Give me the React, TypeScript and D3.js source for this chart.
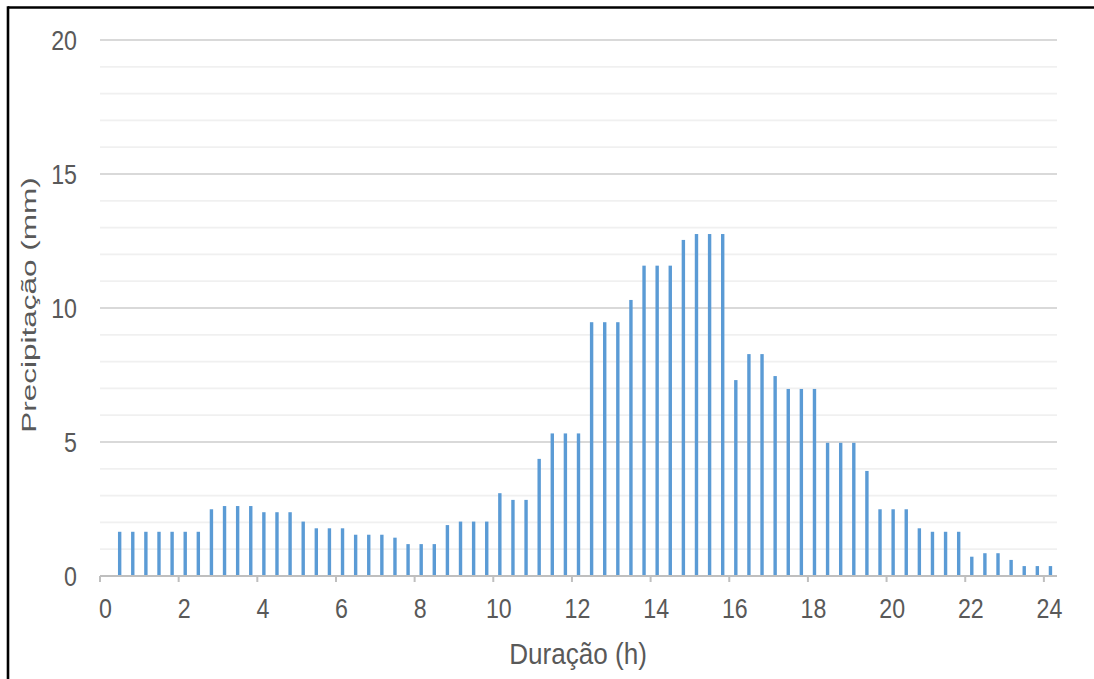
import React from "react";
import * as d3 from "d3";

// Duration categories (hours), one every 20 minutes
const durations: number[] = [
  0, 1 / 3, 2 / 3, 1, 4 / 3, 5 / 3, 2, 7 / 3, 8 / 3, 3, 10 / 3, 11 / 3, 4,
  13 / 3, 14 / 3, 5, 16 / 3, 17 / 3, 6, 19 / 3, 20 / 3, 7, 22 / 3, 23 / 3, 8,
  25 / 3, 26 / 3, 9, 28 / 3, 29 / 3, 10, 31 / 3, 32 / 3, 11, 34 / 3, 35 / 3, 12,
  37 / 3, 38 / 3, 13, 40 / 3, 41 / 3, 14, 43 / 3, 44 / 3, 15, 46 / 3, 47 / 3, 16,
  49 / 3, 50 / 3, 17, 52 / 3, 53 / 3, 18, 55 / 3, 56 / 3, 19, 58 / 3, 59 / 3, 20,
  61 / 3, 62 / 3, 21, 64 / 3, 65 / 3, 22, 67 / 3, 68 / 3, 23, 70 / 3, 71 / 3, 24,
];

// Precipitation (mm) per interval
const precipitation: number[] = [
  0,
  1.65, 1.65, 1.65, 1.65, 1.65, 1.65, 1.65,
  2.49, 2.61, 2.61, 2.61,
  2.38, 2.38, 2.38,
  2.03, 1.78, 1.78, 1.78,
  1.54, 1.54, 1.54, 1.43,
  1.19, 1.19, 1.19,
  1.9, 2.03, 2.03, 2.03,
  3.09, 2.84, 2.84, 4.37,
  5.32, 5.32, 5.32,
  9.47, 9.47, 9.47, 10.3,
  11.58, 11.58, 11.58,
  12.54, 12.76, 12.76, 12.76,
  7.31, 8.28, 8.28, 7.46,
  6.98, 6.98, 6.98,
  4.97, 4.97, 4.97, 3.92,
  2.49, 2.49, 2.49, 1.78,
  1.65, 1.65, 1.65,
  0.72, 0.85, 0.85, 0.6,
  0.37, 0.37, 0.37,
];

const xTickLabels: string[] = ["0", "2", "4", "6", "8", "10", "12", "14", "16", "18", "20", "22", "24"];
const yMajorTicks: number[] = [0, 5, 10, 15, 20];
const yMinorTicks: number[] = [1, 2, 3, 4, 6, 7, 8, 9, 11, 12, 13, 14, 16, 17, 18, 19];

const W = 1094;
const H = 679;
const plotLeft = 100;
const plotRight = 1057;
const plotTop = 40;
const plotBottom = 576;

const BAR = "#5B9BD5";
const TEXT = "#595959";
const FONT = "'Liberation Sans', Arial, sans-serif";
const SX = 0.86; // horizontal squeeze of the text, as in the picture

export default function App() {
  const idx = durations.map((_, i) => i);
  const x = d3.scaleBand<number>().domain(idx).range([plotLeft, plotRight]).padding(0);
  const y = d3.scaleLinear().domain([0, 20]).range([plotBottom, plotTop]);
  const bw = x.bandwidth();
  const barW = 3.4;

  const labelIdx = xTickLabels.map((l) => durations.findIndex((d) => Math.abs(d - +l) < 1e-9));

  return (
    <svg
      width={W}
      height={H}
      style={{ position: "absolute", left: 0, top: 0, background: "#fff" }}
      fontFamily={FONT}
    >
      <rect x={0} y={0} width={W} height={H} fill="#fff" />
      {/* minor gridlines */}
      {yMinorTicks.map((t) => (
        <line key={"mi" + t} x1={plotLeft} x2={plotRight} y1={y(t)} y2={y(t)} stroke="#f0f0f0" strokeWidth={1.8} />
      ))}
      {/* major gridlines */}
      {yMajorTicks.filter((t) => t > 0).map((t) => (
        <line key={"ma" + t} x1={plotLeft} x2={plotRight} y1={y(t)} y2={y(t)} stroke="#d9d9d9" strokeWidth={2} />
      ))}
      {/* bars */}
      {precipitation.map((v, i) =>
        v > 0 ? (
          <rect
            key={"b" + i}
            x={(x(i) as number) + bw / 2 - barW / 2}
            y={y(v)}
            width={barW}
            height={y(0) - y(v)}
            fill={BAR}
          />
        ) : null
      )}
      {/* x axis */}
      <line x1={plotLeft} x2={plotRight} y1={y(0)} y2={y(0)} stroke="#bfbfbf" strokeWidth={2} />
      {labelIdx.map((i, j) => (
        <g key={"xt" + j}>
          <line x1={x(i) as number} x2={x(i) as number} y1={y(0)} y2={y(0) + 6} stroke="#bfbfbf" strokeWidth={2} />
          <g transform={`translate(${(x(i) as number) + bw / 2 - 1}, 618) scale(${SX},1)`}>
            <text x={0} y={0} textAnchor="middle" fontSize={27} fill={TEXT}>
              {xTickLabels[j]}
            </text>
          </g>
        </g>
      ))}
      {/* y tick labels */}
      {yMajorTicks.map((t) => (
        <g key={"yt" + t} transform={`translate(77, ${y(t) + 9.5}) scale(${SX},1)`}>
          <text x={0} y={0} textAnchor="end" fontSize={27} fill={TEXT}>
            {t}
          </text>
        </g>
      ))}
      {/* axis titles */}
      <g transform={`translate(578, 664) scale(0.9,1)`}>
        <text x={0} y={0} textAnchor="middle" fontSize={29} fill={TEXT}>
          Duração (h)
        </text>
      </g>
      <g transform={`translate(36, 305) rotate(-90)`}>
        <text transform="scale(1.5,1)" x={0} y={0} textAnchor="middle" fontSize={21} fill={TEXT}>
          Precipitação (mm)
        </text>
      </g>
      {/* page frame */}
      <line x1={8} x2={W} y1={7.5} y2={7.5} stroke="#000" strokeWidth={2.6} />
      <line x1={8} x2={8} y1={6.2} y2={H} stroke="#000" strokeWidth={2.6} />
    </svg>
  );
}
